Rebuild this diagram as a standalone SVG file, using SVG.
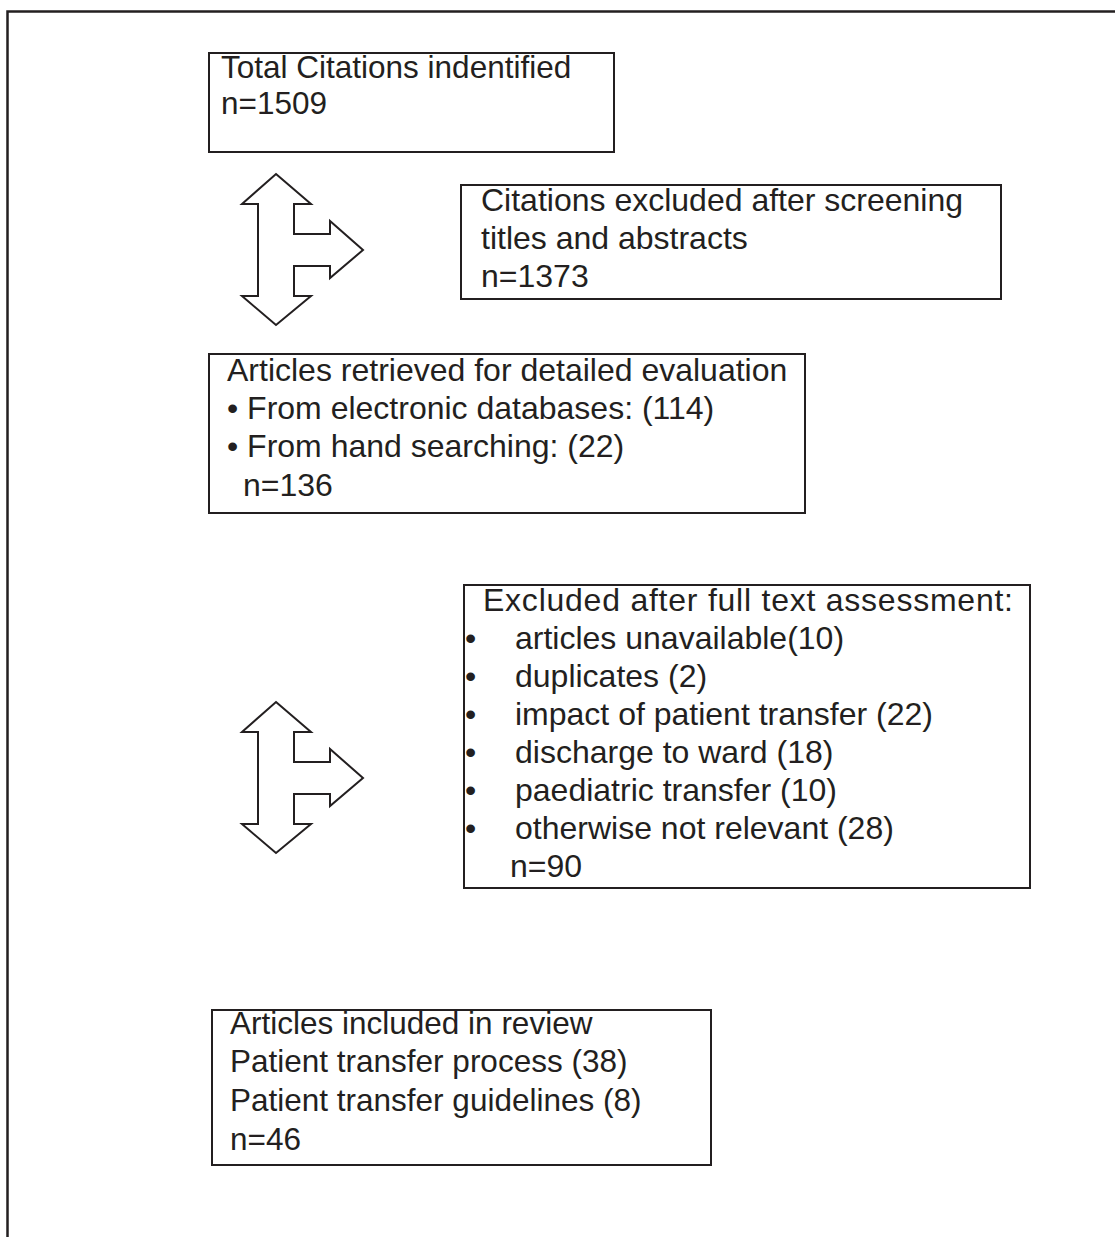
<svg xmlns="http://www.w3.org/2000/svg" width="1115" height="1237" viewBox="0 0 1115 1237">
<style>
.box{fill:#fff;stroke:#231f20;stroke-width:2}
.t{font-family:"Liberation Sans",Arial,sans-serif;font-size:32px;fill:#231f20}
.s{font-size:31.5px}
.arr{fill:#fff;stroke:#231f20;stroke-width:2;stroke-linejoin:miter}
.frame{fill:none;stroke:#231f20;stroke-width:2.5}
</style>
<defs>
<polygon id="tarrow" class="arr" points="276,174 311,204 294,204 294,234 330,234 330,221 363,250 330,278 330,266 294,266 294,296 311,296 276,325 242,296 258,296 258,204 242,204"/>
</defs>
<rect width="1115" height="1237" fill="#fff"/>
<path class="frame" d="M7.5,1237 V11.5 H1115"/>
<g id="connectors">
<use href="#tarrow"/>
<use href="#tarrow" transform="translate(0,528)"/>
</g>
<g id="node-total">
<rect class="box" x="209" y="53" width="405" height="99"/>
<text class="t s" x="221" y="78">Total Citations indentified</text>
<text class="t s" x="221" y="114">n=1509</text>
</g>
<g id="node-excluded-screening">
<rect class="box" x="461" y="185" width="540" height="114"/>
<text class="t" x="481" y="211">Citations excluded after screening</text>
<text class="t" x="481" y="249">titles and abstracts</text>
<text class="t" x="481" y="287">n=1373</text>
</g>
<g id="node-retrieved">
<rect class="box" x="209" y="354" width="596" height="159"/>
<text class="t" x="227" y="381">Articles retrieved for detailed evaluation</text>
<text class="t" x="227" y="419">• From electronic databases: (114)</text>
<text class="t" x="227" y="457">• From hand searching: (22)</text>
<text class="t" x="243" y="496">n=136</text>
</g>
<g id="node-excluded-fulltext">
<rect class="box" x="464" y="585" width="566" height="303"/>
<text class="t" x="483" y="611" textLength="530" lengthAdjust="spacing">Excluded after full text assessment:</text>
<text class="t" x="465" y="649">•</text>
<text class="t" x="515" y="649">articles unavailable(10)</text>
<text class="t" x="465" y="687">•</text>
<text class="t" x="515" y="687">duplicates (2)</text>
<text class="t" x="465" y="725">•</text>
<text class="t" x="515" y="725">impact of patient transfer (22)</text>
<text class="t" x="465" y="763">•</text>
<text class="t" x="515" y="763">discharge to ward (18)</text>
<text class="t" x="465" y="801">•</text>
<text class="t" x="515" y="801">paediatric transfer (10)</text>
<text class="t" x="465" y="839">•</text>
<text class="t" x="515" y="839">otherwise not relevant (28)</text>
<text class="t" x="510" y="877">n=90</text>
</g>
<g id="node-included">
<rect class="box" x="212" y="1010" width="499" height="155"/>
<text class="t s" x="230" y="1034">Articles included in review</text>
<text class="t s" x="230" y="1072">Patient transfer process (38)</text>
<text class="t s" x="230" y="1111">Patient transfer guidelines (8)</text>
<text class="t s" x="230" y="1150">n=46</text>
</g>
</svg>
